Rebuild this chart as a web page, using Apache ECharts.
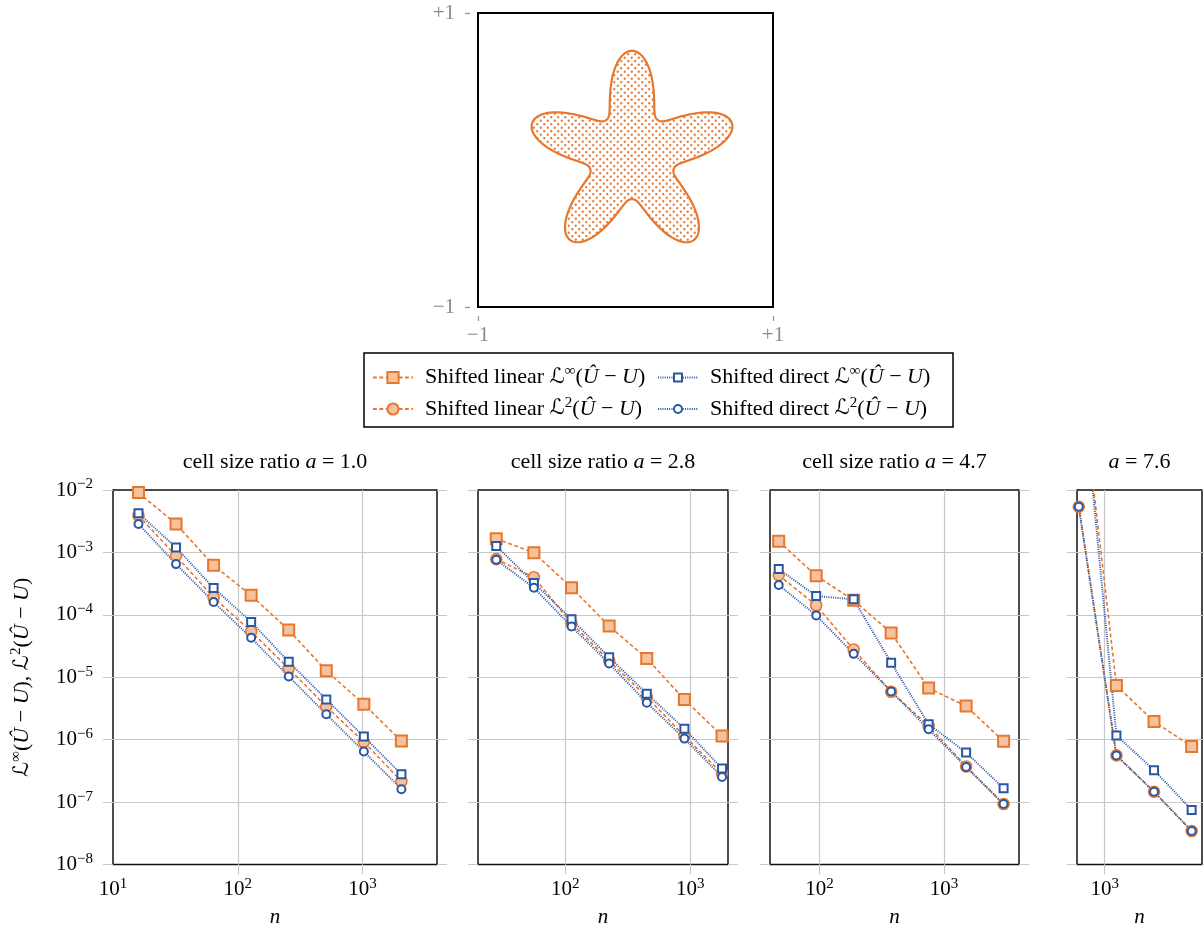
<!DOCTYPE html>
<html>
<head>
<meta charset="utf-8">
<script src="https://cdn.jsdelivr.net/npm/echarts@6/dist/echarts.min.js"></script>
<style>
html, body { margin: 0; padding: 0; background: #fff; }
#chart { width: 1204px; height: 929px; }
</style>
</head>
<body>
<div id="chart"></div>
<script>
// star outline (data units)
const starCenter = [0.044, 0.031];
const starInner = 0.298;
const starOuter = 0.712;
const starPetals = 5;

// a = 1.0
const nA10 = [16, 32, 64, 128, 256, 512, 1024, 2048];
const linInfA10 = [9.1e-3, 2.86e-3, 6.2e-4, 2.05e-4, 5.7e-5, 1.27e-5, 3.7e-6, 9.5e-7];
const lin2A10 = [3.9e-3, 8.8e-4, 1.9e-4, 5.4e-5, 1.38e-5, 3.4e-6, 9.2e-7, 2.16e-7];
const dirInfA10 = [4.24e-3, 1.2e-3, 2.69e-4, 7.7e-5, 1.77e-5, 4.42e-6, 1.12e-6, 2.8e-7];
const dir2A10 = [2.86e-3, 6.5e-4, 1.61e-4, 4.28e-5, 1.03e-5, 2.55e-6, 6.45e-7, 1.61e-7];

// a = 2.8
const nA28 = [28, 56, 112, 224, 448, 896, 1792];
const linInfA28 = [1.65e-3, 9.9e-4, 2.72e-4, 6.6e-5, 2.0e-5, 4.4e-6, 1.15e-6];
const lin2A28 = [7.8e-4, 4.0e-4, 7.3e-5, 1.85e-5, 4.8e-6, 1.15e-6, 2.87e-7];
const dirInfA28 = [1.27e-3, 3.24e-4, 8.5e-5, 2.1e-5, 5.45e-6, 1.5e-6, 3.45e-7];
const dir2A28 = [7.6e-4, 2.72e-4, 6.5e-5, 1.66e-5, 3.9e-6, 1.04e-6, 2.53e-7];

// a = 4.7
const nA47 = [47, 94, 188, 376, 752, 1504, 3008];
const linInfA47 = [1.51e-3, 4.23e-4, 1.71e-4, 5.13e-5, 6.7e-6, 3.45e-6, 9.4e-7];
const lin2A47 = [4.33e-4, 1.42e-4, 2.78e-5, 5.86e-6, 1.66e-6, 3.72e-7, 9.3e-8];
const dirInfA47 = [5.4e-4, 2.0e-4, 1.77e-4, 1.7e-5, 1.76e-6, 6.2e-7, 1.67e-7];
const dir2A47 = [3.0e-4, 9.8e-5, 2.37e-5, 5.93e-6, 1.47e-6, 3.66e-7, 9.3e-8];

// a = 7.6 (first L-inf values lie above the plotted range)
const nA76 = [620, 1240, 2480, 4960];
const linInfA76 = [1.2, 7.4e-6, 1.95e-6, 7.8e-7];
const lin2A76 = [5.4e-3, 5.6e-7, 1.46e-7, 3.44e-8];
const dirInfA76 = [2.1, 1.17e-6, 3.24e-7, 7.5e-8];
const dir2A76 = [5.4e-3, 5.6e-7, 1.46e-7, 3.44e-8];

const panelTitles = ['cell size ratio {i|a} = 1.0', 'cell size ratio {i|a} = 2.8', 'cell size ratio {i|a} = 4.7', '{i|a} = 7.6'];
const xMins = [10, 20, 40, 600];
const xMaxs = [3950, 2000, 4000, 6000];
const xLabelVals = [[10, 100, 1000], [100, 1000], [100, 1000], [1000]];
const xTickVals = [[100, 1000], [100, 1000], [100, 1000], [1000]];
const yTicks = [1e-8, 1e-7, 1e-6, 1e-5, 1e-4, 1e-3, 1e-2];
const squareTickLabels = ['−1', '+1'];

const panels = [
    { n: nA10, linInf: linInfA10, lin2: lin2A10, dirInf: dirInfA10, dir2: dir2A10 },
    { n: nA28, linInf: linInfA28, lin2: lin2A28, dirInf: dirInfA28, dir2: dir2A28 },
    { n: nA47, linInf: linInfA47, lin2: lin2A47, dirInf: dirInfA47, dir2: dir2A47 },
    { n: nA76, linInf: linInfA76, lin2: lin2A76, dirInf: dirInfA76, dir2: dir2A76 }
];

// layout
const panelLeft = [113, 478, 770, 1077];
const panelWidth = [324, 250, 249, 125];
const panelTop = 490;
const panelHeight = 376;
const splitNumbers = [3, 2, 2, 1];

const ORANGE = '#E8772E';
const ORANGE_FILL = '#F6C19D';
const BLUE = '#2A56A6';
const GRIDC = '#c8c8c8';
const SERIF = '"Liberation Serif", "DejaVu Serif", serif';

function makeRich(size) {
    return {
        t: { fontFamily: SERIF, fontSize: size, lineHeight: size + 5, color: '#000' },
        t0: { fontFamily: SERIF, fontSize: size, lineHeight: size + 5, color: '#000', padding: [0, 0, 0, 7] },
        i: { fontFamily: SERIF, fontSize: size, fontStyle: 'italic', lineHeight: size + 5, color: '#000' },
        L: { fontFamily: '"DejaVu Serif", "DejaVu Sans"', fontSize: size - 1, lineHeight: size + 5, color: '#000' },
        s: { fontFamily: SERIF, fontSize: 15, lineHeight: 14, verticalAlign: 'top', color: '#000' }
    };
}
const rich = makeRich(22);
const tickRich = makeRich(21);

const NAMES = {
    linInf: 'Shifted linear Linf',
    lin2: 'Shifted linear L2',
    dirInf: 'Shifted direct Linf',
    dir2: 'Shifted direct L2'
};
const legendText = {};
legendText[NAMES.linInf] = '{t0|Shifted linear }{L|ℒ}{s|∞}{t|(}{i|Û}{t| − }{i|U}{t|)}';
legendText[NAMES.lin2] = '{t0|Shifted linear }{L|ℒ}{s|2}{t|(}{i|Û}{t| − }{i|U}{t|)}';
legendText[NAMES.dirInf] = '{t0|Shifted direct }{L|ℒ}{s|∞}{t|(}{i|Û}{t| − }{i|U}{t|)}';
legendText[NAMES.dir2] = '{t0|Shifted direct }{L|ℒ}{s|2}{t|(}{i|Û}{t| − }{i|U}{t|)}';

function powLabel(v) {
    const e = Math.round(Math.log10(v));
    if (Math.abs(Math.log10(v) - e) > 1e-6) return '';
    return '{t|10}{s|' + (e < 0 ? '−' + (-e) : e) + '}';
}

// dotted fill for the star
const dotCanvas = document.createElement('canvas');
dotCanvas.width = 7;
dotCanvas.height = 7;
(function () {
    const ctx = dotCanvas.getContext('2d');
    ctx.fillStyle = ORANGE;
    [[1.75, 1.75], [5.25, 5.25]].forEach(function (p) {
        ctx.beginPath();
        ctx.arc(p[0], p[1], 1.15, 0, Math.PI * 2);
        ctx.fill();
    });
})();

const chart = echarts.init(document.getElementById('chart'));

const grids = [{ left: 478, top: 13, width: 295, height: 294, show: true, borderColor: '#000', borderWidth: 2, backgroundColor: 'transparent' }];
// square: value axes carry the star, category axes carry ticks and labels a little off the frame
const squareCat = {
    gridIndex: 0, type: 'category', data: squareTickLabels, boundaryGap: false,
    axisLine: { show: true, lineStyle: { color: 'rgba(0,0,0,0)' } },
    axisTick: { show: true, length: 5, lineStyle: { color: '#999', width: 1.3 } },
    splitLine: { show: false }
};
const xAxes = [{
    gridIndex: 0, type: 'value', min: -1, max: 1,
    axisLine: { show: false }, axisTick: { show: false }, axisLabel: { show: false }, splitLine: { show: false }
}, Object.assign({}, squareCat, {
    position: 'bottom', offset: 9,
    axisLabel: { margin: 9, color: '#8a8a8a', fontFamily: SERIF, fontSize: 21 }
})];
const yAxes = [{
    gridIndex: 0, type: 'value', min: -1, max: 1,
    axisLine: { show: false }, axisTick: { show: false }, axisLabel: { show: false }, splitLine: { show: false }
}, Object.assign({}, squareCat, {
    position: 'left', offset: 8,
    axisLabel: { margin: 15, color: '#8a8a8a', fontFamily: SERIF, fontSize: 21 }
})];
const series = [{
    type: 'custom',
    xAxisIndex: 0,
    yAxisIndex: 0,
    data: [[starCenter[0], starCenter[1]]],
    renderItem: function (params, api) {
        const seg = 2 * Math.PI / starPetals;
        const pts = [];
        for (let k = 0; k < 720; k++) {
            const th = k / 720 * 2 * Math.PI;
            let d = (((th - Math.PI / 2) % seg) + seg) % seg;
            if (d > seg / 2) d = seg - d;
            const t = d / (seg / 2);
            const g = Math.pow(Math.cos(Math.PI * t / 2), 2.5);
            const r = starInner + (starOuter - starInner) * g;
            pts.push(api.coord([api.value(0) + r * Math.cos(th), api.value(1) + r * Math.sin(th)]));
        }
        return {
            type: 'polygon',
            shape: { points: pts },
            style: { fill: { image: dotCanvas, repeat: 'repeat' }, stroke: ORANGE, lineWidth: 2.2 }
        };
    }
}];

const graphics = [{
    type: 'rect',
    shape: { x: 364, y: 353, width: 589, height: 74 },
    style: { fill: 'none', stroke: '#000', lineWidth: 1.5 }
}];

panels.forEach(function (p, idx) {
    const gi = idx + 1;
    grids.push({ left: panelLeft[idx], top: panelTop, width: panelWidth[idx], height: panelHeight,
        show: true, borderColor: '#111', borderWidth: 1.5, backgroundColor: 'transparent' });
    xAxes.push({
        gridIndex: gi, type: 'log', logBase: 10, min: xMins[idx], max: xMaxs[idx], splitNumber: splitNumbers[idx],
        axisLine: { show: false },
        axisTick: { show: true, customValues: xTickVals[idx], length: 10, lineStyle: { color: GRIDC } },
        axisLabel: { customValues: xLabelVals[idx], margin: 12, formatter: powLabel, rich: tickRich },
        splitLine: { show: true, lineStyle: { color: GRIDC, width: 1.2 } },
        name: '{i|n}', nameLocation: 'middle', nameGap: 40, nameTextStyle: { rich: tickRich }
    });
    yAxes.push({
        gridIndex: gi, type: 'log', logBase: 10, min: 1e-8, max: 1e-2, splitNumber: 6,
        axisLine: { show: false },
        axisTick: { show: true, customValues: yTicks, length: 10, lineStyle: { color: GRIDC } },
        axisLabel: { show: idx === 0, customValues: yTicks, margin: 20, formatter: powLabel, rich: tickRich },
        splitLine: { show: true, showMinLine: false, showMaxLine: false, lineStyle: { color: GRIDC, width: 1.2 } },
        name: idx === 0 ? '{L|ℒ}{s|∞}{t|(}{i|Û}{t| − }{i|U}{t|), }{L|ℒ}{s|2}{t|(}{i|Û}{t| − }{i|U}{t|)}' : '',
        nameLocation: 'middle', nameRotate: 90, nameGap: 77, nameTextStyle: { rich: rich }
    });
    yAxes.push({
        gridIndex: gi, type: 'log', logBase: 10, min: 1e-8, max: 1e-2, splitNumber: 6, position: 'right',
        axisLine: { show: false },
        axisTick: { show: true, customValues: yTicks, length: 10, lineStyle: { color: GRIDC } },
        axisLabel: { show: false },
        splitLine: { show: false }
    });
    const xi = xAxes.length - 1;
    const yi = yAxes.length - 2;
    const zip = function (vals) { return p.n.map(function (n, k) { return [n, vals[k]]; }); };
    const common = { type: 'line', xAxisIndex: xi, yAxisIndex: yi, clip: true, showSymbol: true, emphasis: { disabled: true } };
    // dash lengths are multiplied by the line width
    series.push(Object.assign({}, common, {
        name: NAMES.linInf, data: zip(p.linInf), symbol: 'rect', symbolSize: 11,
        itemStyle: { color: ORANGE_FILL, borderColor: ORANGE, borderWidth: 2 },
        lineStyle: { color: ORANGE, width: 1.6, type: [3.8, 2.6] }
    }));
    series.push(Object.assign({}, common, {
        name: NAMES.lin2, data: zip(p.lin2), symbol: 'circle', symbolSize: 11,
        itemStyle: { color: ORANGE_FILL, borderColor: ORANGE, borderWidth: 1.6 },
        lineStyle: { color: ORANGE, width: 1.6, type: [3.8, 2.6] }
    }));
    series.push(Object.assign({}, common, {
        name: NAMES.dirInf, data: zip(p.dirInf), symbol: 'rect', symbolSize: 8,
        itemStyle: { color: '#fff', borderColor: BLUE, borderWidth: 2 },
        lineStyle: { color: BLUE, width: 2, type: [1, 1.25] }
    }));
    series.push(Object.assign({}, common, {
        name: NAMES.dir2, data: zip(p.dir2), symbol: 'circle', symbolSize: 8,
        itemStyle: { color: '#fff', borderColor: BLUE, borderWidth: 2 },
        lineStyle: { color: BLUE, width: 2, type: [1, 1.25] }
    }));
    graphics.push({
        type: 'text',
        x: panelLeft[idx] + panelWidth[idx] / 2,
        y: 462,
        style: { text: '{t|' + panelTitles[idx].replace('{i|a}', '}{i|a}{t|') + '}', align: 'center', verticalAlign: 'middle', rich: rich }
    });
});

const legendCommon = {
    orient: 'vertical', itemWidth: 40, itemGap: 7, top: 359,
    formatter: function (name) { return legendText[name]; },
    textStyle: { rich: rich },
    selectedMode: false
};

chart.setOption({
    animation: false,
    backgroundColor: '#fff',
    grid: grids,
    xAxis: xAxes,
    yAxis: yAxes,
    legend: [
        Object.assign({}, legendCommon, { left: 367, itemHeight: 14, data: [NAMES.linInf, NAMES.lin2] }),
        Object.assign({}, legendCommon, { left: 652, itemHeight: 10, data: [NAMES.dirInf, NAMES.dir2] })
    ],
    graphic: graphics,
    series: series
});
</script>
</body>
</html>
